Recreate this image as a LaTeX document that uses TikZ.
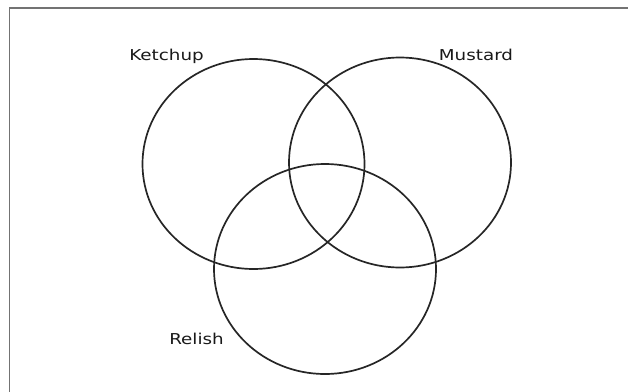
\documentclass[tikz,border=0pt]{standalone}
\usepackage{fontspec}
\setmainfont{DejaVu Sans}
\usetikzlibrary{shapes.geometric}
\begin{document}
\begin{tikzpicture}[x=1pt,y=-1pt,
  venn/.style={draw=black!85,line width=1.7pt,ellipse,inner sep=0pt,minimum width=222pt,minimum height=210pt},
  lbl/.style={anchor=base,font=\fontsize{15}{17}\selectfont,inner sep=0pt,text=black!90,xscale=1.22}]
\useasboundingbox (0,0) rectangle (628,391);
\fill[white] (0,0) rectangle (628,391);
\draw[black!55,line width=1.6pt] (9.5,392) -- (9.5,8) -- (629,8);
\node[venn] (ketchup) at (253.5,164) {};
\node[venn] (mustard) at (400,162.5) {};
\node[venn] (relish) at (325,269) {};
\node[lbl] (lk) at (166.5,60.5) {Ketchup};
\node[lbl] (lm) at (476,60.5) {Mustard};
\node[lbl] (lr) at (196.5,344) {Relish};
\end{tikzpicture}
\end{document}
